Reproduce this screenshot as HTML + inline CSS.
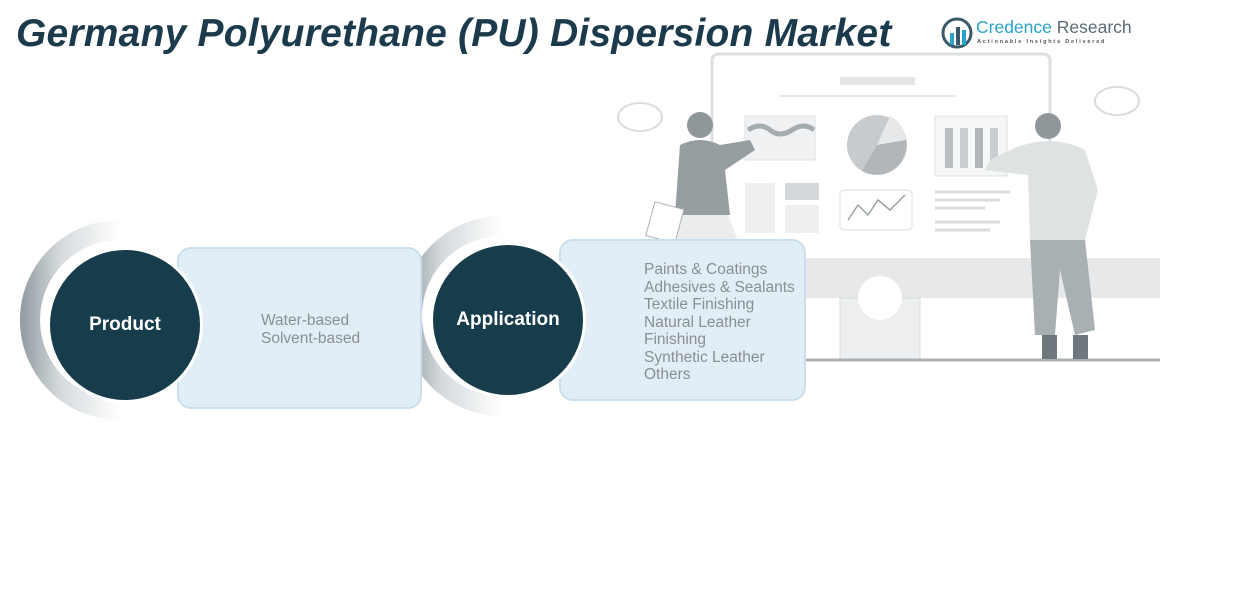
<!DOCTYPE html>
<html><head><meta charset="utf-8"><style>
html,body{margin:0;padding:0;background:#fff;width:1237px;height:605px;overflow:hidden;position:relative;font-family:"Liberation Sans",sans-serif}
.t{position:absolute;left:16px;top:12px;font-size:39px;font-weight:bold;font-style:italic;color:#1b3a4b;white-space:nowrap;letter-spacing:0.2px}
.box{position:absolute;background:#e1eef6;border:2px solid #c9dfeb;border-radius:14px;box-sizing:border-box}
.txt{position:absolute;color:#8a8f94;font-size:15.5px;line-height:17.5px;white-space:nowrap}
.c{position:absolute;border-radius:50%;background:#173d4c;border:3px solid #fff;color:#fff;font-weight:bold;font-size:19px;display:flex;align-items:center;justify-content:center;box-sizing:border-box}
</style></head><body>
<svg width="1237" height="605" style="position:absolute;left:0;top:0">
<defs>
<linearGradient id="g" x1="0" x2="1" y1="0" y2="0"><stop offset="0" stop-color="#8f9aa0"/><stop offset="0.4" stop-color="#d5dadd"/><stop offset="1" stop-color="#fff"/></linearGradient>
</defs>
<g fill="none" stroke="#dde0e2" stroke-width="3">
<rect x="712" y="54" width="338" height="210" rx="6" fill="#fff"/>
</g>
<rect x="805" y="258" width="355" height="40" fill="#e6e8e9"/>
<rect x="840" y="298" width="80" height="62" fill="#eceeef" stroke="#d8dbdd"/>
<circle cx="880" cy="298" r="22" fill="#fff"/>
<line x1="800" y1="360" x2="1160" y2="360" stroke="#a9b0b4" stroke-width="3"/>
<rect x="840" y="77" width="75" height="8" fill="#e3e5e6"/>
<line x1="780" y1="96" x2="955" y2="96" stroke="#e3e5e6" stroke-width="2"/>
<rect x="745" y="116" width="70" height="44" fill="#f0f1f2" stroke="#dcdfe0"/>
<path d="M748 130 q12 -8 22 0 t22 0 t22 0" stroke="#a5acb0" stroke-width="5" fill="none"/>
<circle cx="877" cy="145" r="30" fill="#c7cbcd"/>
<path d="M877 145 L890 116 A30 30 0 0 1 906 140 Z" fill="#e6e8e9"/>
<path d="M877 145 L906 140 A30 30 0 0 1 862 171 Z" fill="#b0b6b9"/>
<rect x="935" y="116" width="72" height="60" fill="#f5f6f6" stroke="#dcdfe0"/>
<rect x="945" y="128" width="8" height="40" fill="#b9bec1"/><rect x="960" y="128" width="8" height="40" fill="#c9cdcf"/><rect x="975" y="128" width="8" height="40" fill="#b0b6b9"/><rect x="990" y="128" width="8" height="40" fill="#c9cdcf"/>
<rect x="745" y="183" width="30" height="50" fill="#eef0f0"/><rect x="785" y="183" width="34" height="17" fill="#d4d8da"/><rect x="785" y="205" width="34" height="28" fill="#eef0f0"/>
<rect x="840" y="190" width="72" height="40" rx="4" fill="#fff" stroke="#dcdfe0"/>
<polyline points="848,220 858,205 868,215 878,200 890,210 905,195" stroke="#9aa1a5" fill="none" stroke-width="1.5"/>
<g stroke="#dadddf" stroke-width="3"><line x1="935" y1="192" x2="1010" y2="192"/><line x1="935" y1="200" x2="1000" y2="200"/><line x1="935" y1="208" x2="985" y2="208"/><line x1="935" y1="222" x2="1000" y2="222"/><line x1="935" y1="230" x2="990" y2="230"/></g>
<circle cx="700" cy="125" r="13" fill="#8f979b"/>
<path d="M680 145 Q700 135 720 145 L750 140 L755 150 L725 170 L730 215 L675 215 Z" fill="#959da1"/>
<path d="M680 215 L728 215 L740 245 L672 245 Z" fill="#eceeee"/>
<rect x="650" y="205" width="30" height="35" fill="#fff" stroke="#aab0b3" transform="rotate(15 665 222)"/>
<circle cx="1048" cy="126" r="13" fill="#8f979b"/>
<path d="M1010 150 Q1050 132 1085 150 L1098 190 L1085 240 L1030 240 L1028 175 L985 170 L990 160 Z" fill="#dfe2e3"/>
<path d="M1030 240 L1085 240 L1095 330 L1075 335 L1060 270 L1055 335 L1035 335 Z" fill="#a9b0b4"/>
<rect x="1042" y="335" width="15" height="24" fill="#6f787d"/><rect x="1073" y="335" width="15" height="24" fill="#6f787d"/>
<g fill="#fff" stroke="#dadddf" stroke-width="2"><ellipse cx="640" cy="117" rx="22" ry="14"/><ellipse cx="1117" cy="101" rx="22" ry="14"/></g>
<path d="M120 220 A100 100 0 1 0 120 420 L120 400 A80 80 0 1 1 120 240 Z" fill="url(#g)"/>
<path d="M502 216 A100 100 0 1 0 502 416 L502 396 A80 80 0 1 1 502 236 Z" fill="url(#g)"/>
</svg>
<div class="box" style="left:177px;top:247px;width:245px;height:162px"></div>
<div class="box" style="left:559px;top:239px;width:247px;height:162px"></div>
<div class="c" style="left:47px;top:247px;width:156px;height:156px">Product</div>
<div class="c" style="left:430px;top:242px;width:156px;height:156px">Application</div>
<div class="txt" style="left:261px;top:312px">Water-based<br>Solvent-based</div>
<div class="txt" style="left:644px;top:261px">Paints &amp; Coatings<br>Adhesives &amp; Sealants<br>Textile Finishing<br>Natural Leather<br>Finishing<br>Synthetic Leather<br>Others</div>
<div class="t">Germany Polyurethane (PU) Dispersion Market</div>
<svg width="40" height="40" style="position:absolute;left:940px;top:15px"><circle cx="17" cy="18" r="14" fill="none" stroke="#3a5a6a" stroke-width="3"/><rect x="10" y="18" width="4" height="12" fill="#2aa3c8"/><rect x="16" y="12" width="4" height="18" fill="#3a5a6a"/><rect x="22" y="15" width="4" height="15" fill="#2aa3c8"/></svg>
<div style="position:absolute;left:976px;top:17px;font-size:17.5px;color:#2aa3c8;white-space:nowrap">Credence <span style="color:#5a6a74">Research</span></div>
<div style="position:absolute;left:977px;top:39px;font-size:5.5px;letter-spacing:1.8px;color:#555;white-space:nowrap;font-weight:bold">Actionable Insights Delivered</div>
</body></html>
